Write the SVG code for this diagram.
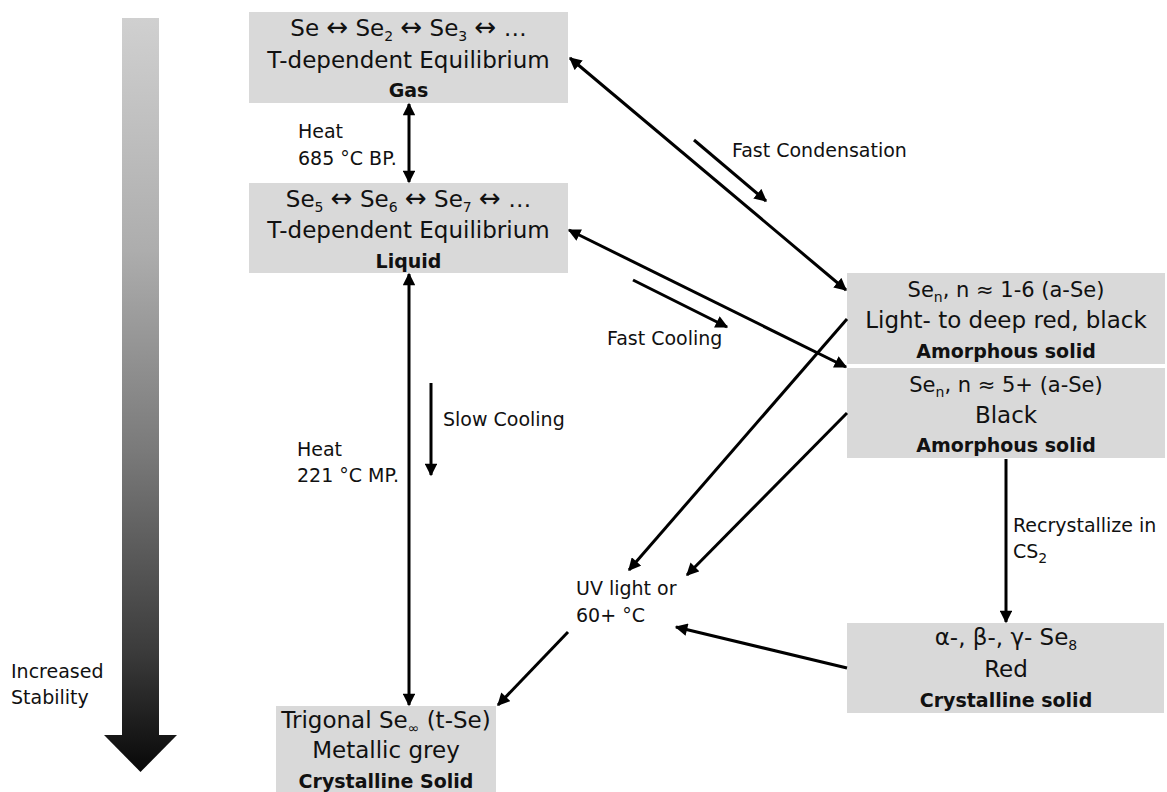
<svg xmlns="http://www.w3.org/2000/svg" width="1167" height="792" viewBox="0 0 1167 792">
<defs>
<linearGradient id="grad" gradientUnits="userSpaceOnUse" x1="0" y1="18" x2="0" y2="772">
<stop offset="0" stop-color="#d0d0d0"/>
<stop offset="0.308" stop-color="#adadad"/>
<stop offset="0.573" stop-color="#7a7a7a"/>
<stop offset="0.838" stop-color="#3c3c3c"/>
<stop offset="1" stop-color="#080808"/>
</linearGradient>
<marker id="ah" viewBox="0 0 10 10" refX="9" refY="5" markerWidth="4.4" markerHeight="4.2" orient="auto-start-reverse" markerUnits="strokeWidth">
<path d="M0,0 L10,5 L0,10 z" fill="#000"/>
</marker>
<style>
.box{fill:#d9d9d9;}
text{font-family:"DejaVu Sans","Liberation Sans",Arial,sans-serif;fill:#111;}
.t{font-size:23px;text-anchor:middle;}
.t.n{font-size:21px;}
.b{font-size:19px;font-weight:bold;text-anchor:middle;}
.l{font-size:19px;}
.c line{stroke:#000;stroke-width:3;}
.s{font-size:14px;}
.a{font-size:26px;}
</style>
</defs>
<g id="stability">
<rect x="122" y="18" width="37" height="718" fill="url(#grad)"/>
<polygon points="104,735 177,735 140.5,772" fill="url(#grad)"/>
<text class="l" x="11" y="678">Increased</text>
<text class="l" x="11" y="704">Stability</text>
</g>
<g id="gas">
<rect class="box" x="249" y="12" width="319" height="91"/>
<text class="t" x="408.5" y="36">Se <tspan class="a">↔</tspan> Se<tspan class="s" dy="5">2</tspan><tspan dy="-5"> </tspan><tspan class="a">↔</tspan> Se<tspan class="s" dy="5">3</tspan><tspan dy="-5"> </tspan><tspan class="a">↔</tspan> …</text>
<text class="t" x="408.5" y="68">T-dependent Equilibrium</text>
<text class="b" x="408.5" y="97">Gas</text>
</g>
<g id="liquid">
<rect class="box" x="249" y="183" width="319" height="90"/>
<text class="t" x="408.5" y="207">Se<tspan class="s" dy="5">5</tspan><tspan dy="-5"> </tspan><tspan class="a">↔</tspan> Se<tspan class="s" dy="5">6</tspan><tspan dy="-5"> </tspan><tspan class="a">↔</tspan> Se<tspan class="s" dy="5">7</tspan><tspan dy="-5"> </tspan><tspan class="a">↔</tspan> …</text>
<text class="t" x="408.5" y="238">T-dependent Equilibrium</text>
<text class="b" x="408.5" y="268">Liquid</text>
</g>
<g id="amorph1">
<rect class="box" x="847" y="273" width="318" height="91"/>
<text class="t n" x="1006" y="297">Se<tspan class="s" dy="5">n</tspan><tspan dy="-5">, n ≈ 1-6 (a-Se)</tspan></text>
<text class="t" x="1006" y="328">Light- to deep red, black</text>
<text class="b" x="1006" y="358">Amorphous solid</text>
</g>
<g id="amorph2">
<rect class="box" x="847" y="368" width="318" height="90"/>
<text class="t n" x="1006" y="392">Se<tspan class="s" dy="5">n</tspan><tspan dy="-5">, n ≈ 5+ (a-Se)</tspan></text>
<text class="t" x="1006" y="423">Black</text>
<text class="b" x="1006" y="452">Amorphous solid</text>
</g>
<g id="se8">
<rect class="box" x="847" y="623" width="317" height="90"/>
<text class="t" x="1006" y="645">α-, β-, γ- Se<tspan class="s" dy="5">8</tspan></text>
<text class="t" x="1006" y="677">Red</text>
<text class="b" x="1006" y="707">Crystalline solid</text>
</g>
<g id="trigonal">
<rect class="box" x="276" y="706" width="220" height="90"/>
<text class="t" x="386" y="728">Trigonal Se<tspan class="s" dy="5">∞</tspan><tspan dy="-5"> (t-Se)</tspan></text>
<text class="t" x="386" y="758">Metallic grey</text>
<text class="b" x="386" y="788">Crystalline Solid</text>
</g>
<g id="uv">
<text class="l" x="576" y="595">UV light or</text>
<text class="l" x="576" y="622">60+ °C</text>
</g>
<g id="connectors" class="c">
<line x1="409" y1="104" x2="409" y2="182" marker-start="url(#ah)" marker-end="url(#ah)"/>
<line x1="409" y1="274" x2="409" y2="705" marker-start="url(#ah)" marker-end="url(#ah)"/>
<line x1="570" y1="58" x2="846" y2="290" marker-start="url(#ah)" marker-end="url(#ah)"/>
<line x1="569" y1="230" x2="846" y2="367" marker-start="url(#ah)" marker-end="url(#ah)"/>
<line x1="694" y1="140" x2="766" y2="201" marker-end="url(#ah)"/>
<line x1="633" y1="280" x2="727" y2="327" marker-end="url(#ah)"/>
<line x1="431" y1="383" x2="431" y2="475" marker-end="url(#ah)"/>
<line x1="847" y1="319" x2="629" y2="570" marker-end="url(#ah)"/>
<line x1="847" y1="413" x2="687" y2="575" marker-end="url(#ah)"/>
<line x1="847" y1="668" x2="676" y2="627" marker-end="url(#ah)"/>
<line x1="568" y1="632" x2="498" y2="705" marker-end="url(#ah)"/>
<line x1="1006" y1="459" x2="1006" y2="622" marker-end="url(#ah)"/>
</g>
<g id="labels">
<text class="l" x="298" y="138">Heat</text>
<text class="l" x="298" y="165">685 °C BP.</text>
<text class="l" x="732" y="157">Fast Condensation</text>
<text class="l" x="607" y="345">Fast Cooling</text>
<text class="l" x="443" y="426">Slow Cooling</text>
<text class="l" x="297" y="456">Heat</text>
<text class="l" x="297" y="482">221 °C MP.</text>
<text class="l" x="1013" y="532">Recrystallize in</text>
<text class="l" x="1013" y="558">CS<tspan class="s" dy="5">2</tspan></text>
</g>
</svg>
